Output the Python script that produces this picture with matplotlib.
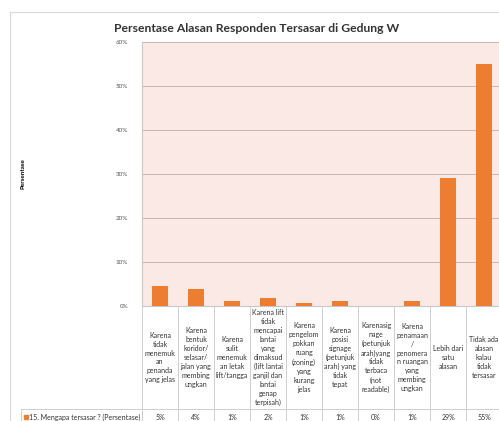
import matplotlib.pyplot as plt
import matplotlib.transforms as mtransforms
from matplotlib.lines import Line2D
from matplotlib.patches import Rectangle

# Data
categories = [
    "Karena\ntidak\nmenemuk\nan\npenanda\nyang jelas",
    "Karena\nbentuk\nkoridor/\nselasar/\njalan yang\nmembing\nungkan",
    "Karena\nsulit\nmenemuk\nan letak\nlift/tangga",
    "Karena lift\ntidak\nmencapai\nlantai\nyang\ndimaksud\n(lift lantai\nganjil dan\nlantai\ngenap\nterpisah)",
    "Karena\npengelom\npokkan\nruang\n(zoning)\nyang\nkurang\njelas",
    "Karena\nposisi\nsignage\n(petunjuk\narah) yang\ntidak\ntepat",
    "Karenasig\nnage\n(petunjuk\narah)yang\ntidak\nterbaca\n(not\nreadable)",
    "Karena\npenamaan\n/\npenomera\nn ruangan\nyang\nmembing\nungkan",
    "Lebih dari\nsatu\nalasan",
    "Tidak ada\nalasan\nkalau\ntidak\ntersasar",
]
values = [4.6, 3.9, 1.2, 1.8, 0.6, 1.2, 0.0, 1.2, 29.2, 55.0]
value_labels = ["5%", "4%", "1%", "2%", "1%", "1%", "0%", "1%", "29%", "55%"]
yticks = [0, 10, 20, 30, 40, 50, 60]
series_name = "15. Mengapa tersasar ? (Persentase)"

W, H = 499, 421
fig = plt.figure(figsize=(W / 100, H / 100), dpi=100)
plt.rcParams['font.family'] = ['Lato', 'DejaVu Sans']

# plot area in pixel coordinates (left 142, right 502, top 42, bottom 306)
ax = fig.add_axes([142 / W, (H - 306) / H, 360 / W, 264 / H])
ax.set_facecolor('#fbe9e6')

x = list(range(len(values)))
ax.bar(x, values, width=0.42, color='#ed7d31', zorder=3)
ax.set_xlim(-0.5, len(values) - 0.5)
ax.set_ylim(0, 60)
ax.set_yticks(yticks)
ax.set_yticklabels([f"{t}%" for t in yticks], fontsize=4.5, color='#555555')
ax.set_xticks([])
ax.tick_params(axis='y', length=0, pad=10)
ax.yaxis.grid(True, color='#c9b6b1', linewidth=0.7, zorder=0)
for s in ['top', 'right']:
    ax.spines[s].set_visible(False)
ax.spines['left'].set_color('#c8c8c8')
ax.spines['bottom'].set_color('#c8c8c8')

ax.set_ylabel("Persentase", fontsize=4.5, fontweight='bold', labelpad=0)
ax.yaxis.set_label_coords(-116 / 360, 0.5)

fig.text(257 / W, 1 - 28 / H, "Persentase Alasan Responden Tersasar di Gedung W",
         ha='center', va='center', fontsize=8.7, fontweight='bold', color='#333333')

# data table below the plot
trans = mtransforms.blended_transform_factory(ax.transData, ax.transAxes)
row_y = (306 - 409) / 264
bottom_y = (306 - 425) / 264
line_col = '#cfcfcf'
for i in range(len(values) + 1):
    ax.add_line(Line2D([i - 0.5, i - 0.5], [0, bottom_y], transform=trans,
                       color=line_col, linewidth=0.7, clip_on=False))
for i, (lab, val) in enumerate(zip(categories, value_labels)):
    ax.text(i, (0 + row_y) / 2, lab, transform=trans, ha='center', va='center',
            fontsize=5.0, color='#333333', linespacing=1.33, clip_on=False)
    ax.text(i, (306 - 417) / 264, val, transform=trans, ha='center', va='center',
            fontsize=5.0, color='#333333', clip_on=False)

# legend cell and row border
fig.add_artist(Line2D([21 / W, 1], [1 - 409 / H] * 2, color=line_col, linewidth=0.7))
fig.add_artist(Line2D([21 / W] * 2, [1 - 409 / H, 0], color=line_col, linewidth=0.7))
fig.add_artist(Rectangle((24 / W, 1 - 419 / H), 4 / W, 4 / H, color='#ed7d31'))
fig.text(29 / W, 1 - 417 / H, series_name, ha='left', va='center',
         fontsize=5.0, color='#333333')

# outer chart border
fig.add_artist(Line2D([10 / W, 1], [1 - 12 / H] * 2, color='#d9d9d9', linewidth=0.8))
fig.add_artist(Line2D([10 / W] * 2, [1 - 12 / H, 0], color='#d9d9d9', linewidth=0.8))

fig.savefig('out.png', dpi=100)
